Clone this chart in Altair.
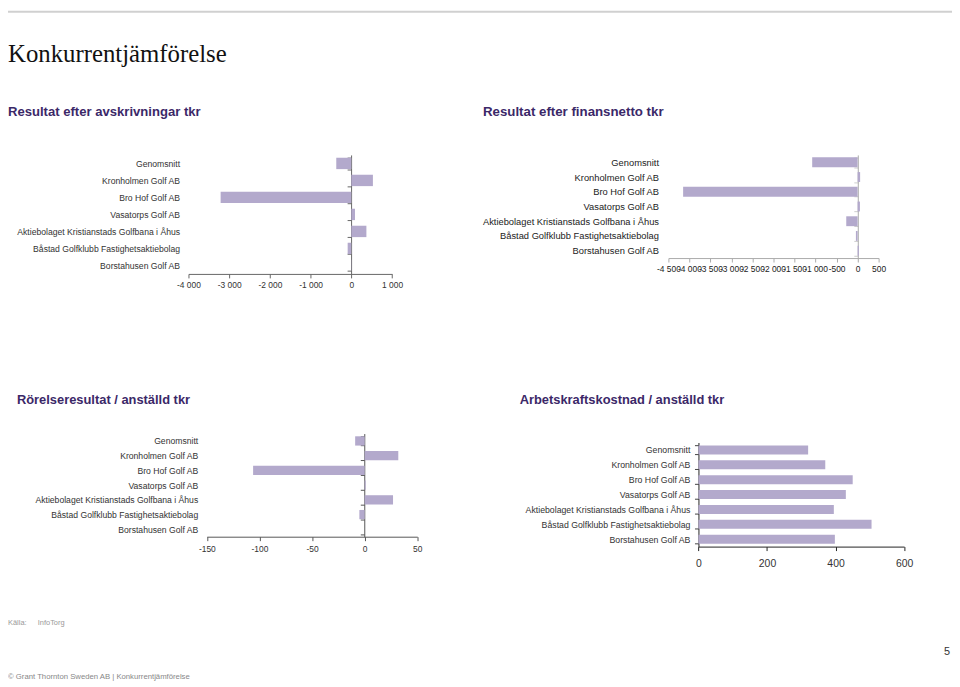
import altair as alt
import pandas as pd

# ---------------- data ----------------
companies = [
    "Genomsnitt",
    "Kronholmen Golf AB",
    "Bro Hof Golf AB",
    "Vasatorps Golf AB",
    "Aktiebolaget Kristianstads Golfbana i Åhus",
    "Båstad Golfklubb Fastighetsaktiebolag",
    "Borstahusen Golf AB",
]
res_efter_avskr = [-370, 530, -3210, 90, 370, -90, 5]
res_efter_fin = [-1080, 60, -4150, 55, -270, -40, 30]
rorelseres_per_anst = [-9, 32, -106, 1, 27, -5, 0]
arbkost_per_anst = [320, 370, 450, 430, 395, 505, 398]

ticks_a = [-4000, -3000, -2000, -1000, 0, 1000]
ticks_b = [-4500, -4000, -3500, -3000, -2500, -2000, -1500, -1000, -500, 0, 500]
ticks_c = [-150, -100, -50, 0, 50]
ticks_d = [0, 200, 400, 600]

# ---------------- styling / layout ----------------
OX, OY = 8, 8          # page margin
W, H = 952, 679
BAR = "#b3a9cc"
TITLE_COL = "#3b2868"
SANS = "Liberation Sans, Arial, sans-serif"
LABEL_EXPR = "(datum.value < 0 ? '-' : '') + replace(format(abs(datum.value), ',d'), ',', ' ')"


def panel(values, domain, ticks, x_range, x_axis_y, y_range, y_axis_x, label_right,
          pad, cat_size, tick_size, axis_color, y_tick_color, label_color, x_lab_pad):
    df = pd.DataFrame({"c": companies, "v": values})
    return alt.Chart(df).mark_bar(color=BAR).encode(
        x=alt.X(
            "v:Q",
            scale=alt.Scale(domain=domain, range=[x_range[0] - OX, x_range[1] - OX], nice=False),
            axis=alt.Axis(
                orient="bottom", offset=(x_axis_y - OY) - H, values=ticks, labelExpr=LABEL_EXPR,
                title=None, grid=False, domainColor=axis_color, tickColor=axis_color, tickSize=4,
                labelPadding=x_lab_pad, labelFont=SANS, labelFontSize=tick_size,
                labelColor=label_color, labelOverlap=False, labelFlush=False,
            ),
        ),
        y=alt.Y(
            "c:N", sort=companies,
            scale=alt.Scale(range=[y_range[0] - OY, y_range[1] - OY], paddingInner=pad, paddingOuter=pad / 2),
            axis=alt.Axis(
                orient="left", offset=-(y_axis_x - OX), title=None, grid=False, tickBand="extent",
                domainColor=axis_color, tickColor=y_tick_color, tickSize=4,
                labelPadding=(y_axis_x - label_right) - 4, labelFont=SANS, labelFontSize=cat_size,
                labelColor=label_color, labelLimit=0,
            ),
        ),
    )


pA = panel(res_efter_avskr, [-4000, 1000], ticks_a, (190, 395.3), 273.3, (153.3, 273.3), 354, 181,
           0.33, 8.7, 8.5, "#666666", "#666666", "#333333", 3)
pB = panel(res_efter_fin, [-4500, 500], ticks_b, (674, 886), 257.3, (153.3, 257.3), 865, 664,
           0.33, 9.4, 8.5, "#aaaaaa", "#cccccc", "#222222", 3)
pC = panel(rorelseres_per_anst, [-150, 50], ticks_c, (208.5, 420.7), 538.3, (434.3, 538.3), 367.3, 199.3,
           0.37, 8.7, 8.5, "#555555", "#555555", "#333333", 3.5)
pD = panel(arbkost_per_anst, [0, 600], ticks_d, (704.3, 911.7), 548.3, (443.3, 548.3), 704.3, 695.7,
           0.4, 8.8, 10.5, "#222222", "#444444", "#333333", 8)


def label(text, x, y, size, color, font=SANS, weight="normal", align="left"):
    return alt.Chart(alt.Data(values=[{}])).mark_text(
        align=align, baseline="middle", font=font, fontSize=size, fontWeight=weight, color=color
    ).encode(x=alt.value(x - OX), y=alt.value(y - OY), text=alt.value(text))


top_line = alt.Chart(alt.Data(values=[{}])).mark_rule(color="#d0d0d0", strokeWidth=2).encode(
    x=alt.value(0), x2=alt.value(W), y=alt.value(1)
)

texts = [
    label("Konkurrentjämförelse", 8, 52, 25, "#111111", font="Liberation Serif, Times New Roman, serif"),
    label("Resultat efter avskrivningar tkr", 8, 110, 13.2, TITLE_COL, weight="bold"),
    label("Resultat efter finansnetto tkr", 487, 110, 13.4, TITLE_COL, weight="bold"),
    label("Rörelseresultat / anställd tkr", 17, 400, 13, TITLE_COL, weight="bold"),
    label("Arbetskraftskostnad / anställd tkr", 524, 400, 13, TITLE_COL, weight="bold"),
    label("Källa:", 8, 625, 7.5, "#999999"),
    label("InfoTorg", 38, 625, 7.5, "#999999"),
    label("©  Grant Thornton Sweden AB   |   Konkurrentjämförelse", 8, 680, 7.8, "#888888"),
    label("5", 955, 655, 11, "#333333", align="center"),
]

chart = alt.layer(pA, pB, pC, pD, top_line, *texts).resolve_scale(
    x="independent", y="independent"
).properties(
    width=W, height=H, autosize=alt.AutoSizeParams(type="none"), padding=0
).configure_view(stroke="transparent")

chart.save("out.html", embed_options={"renderer": "svg", "actions": False})
